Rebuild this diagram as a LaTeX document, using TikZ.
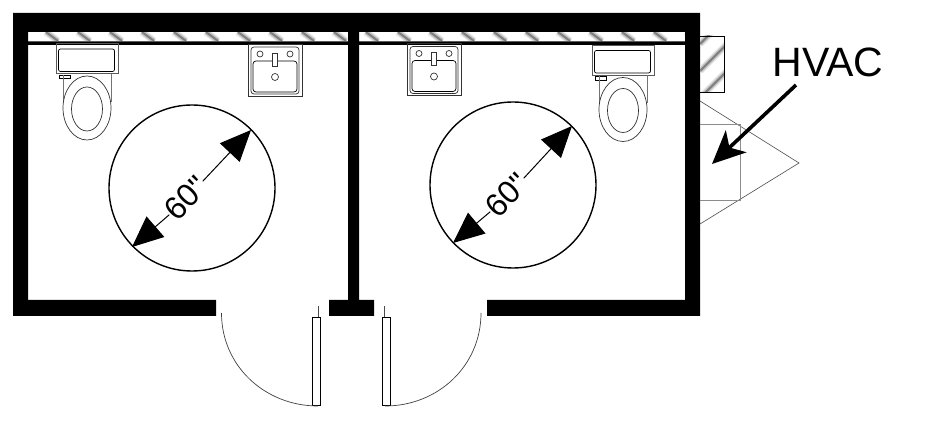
\documentclass[tikz,border=0pt]{standalone}
\usepackage{fontspec}
\setmainfont{Liberation Sans}
\newfontfamily\dimfont{Liberation Sans}
\usetikzlibrary{arrows.meta}
\begin{document}
\begin{tikzpicture}[x=1pt,y=-1pt,
 fix/.style={line width=.7pt,black!80},
 dimline/.style={line width=1pt,{Triangle[length=31pt,width=27pt]}-},
 dimtext/.style={font=\dimfont\fontsize{32}{32}\selectfont,rotate=45,inner sep=0pt},
 hatchone/.style={line width=7pt,black!10},
 hatchtwo/.style={line width=4.5pt,black!25},
 hatchthree/.style={line width=2pt,black!50},
 toilet/.pic={
  \draw[line width=1pt,black!65] (0,0) rectangle (62,30);
  \draw[fix,rounded corners=2pt,black] (2.5,5) rectangle (58.5,27.5);
  \draw[fix,black] (3,31) rectangle (14,34.5);
  \draw[line width=1pt,black!55] (7.5,31) -- (7.5,58) (55,30) -- (55,58);
  \draw[fix,fill=white] (31,64) ellipse [x radius=24,y radius=32];
  \draw[fix] (31,65) ellipse [x radius=15.5,y radius=22];},
 sink/.pic={
  \draw[fix] (0,0) rectangle (54,52);
  \draw[fix,rounded corners=3pt] (3,3) rectangle (51,50);
  \draw[fix,rounded corners=3pt,black] (5,17) rectangle (49,48);
  \draw[fix] (12,10) circle (3) (42,10) circle (3) (27,33) circle (3.5);
  \draw[fix,fill=white] (24.5,9) rectangle (29.5,22);}]
\useasboundingbox (0,0) rectangle (927,427);
\begin{scope}
\clip (28,32) rectangle (685,41);
\foreach \st in {hatchone,hatchtwo,hatchthree}
 \foreach \s in {0,...,20}
  \draw[\st] (46+32*\s,32) -- (58+32*\s,41);
\end{scope}
\fill (13,13) rectangle (700,32) (13,13) rectangle (28,316) (685,13) rectangle (700,316)
 (13,300) rectangle (216,316) (487,300) rectangle (700,316) (329,300) rectangle (374,316)
 (348,32) rectangle (359,300) (28,41.5) rectangle (685,45);
\begin{scope}
\clip (700,36) rectangle (724.5,92);
\foreach \st in {hatchone,hatchtwo,hatchthree}
 \foreach \s in {744,771,798}
  \draw[\st] (700,\s-700) -- ++(30,-30);
\end{scope}
\draw[line width=.8pt] (700,36) -- (724.5,36) -- (724.5,92) -- (700,92);
\draw[line width=.6pt,black!70] (700,101) -- (799,163) -- (700,224);
\draw[line width=.9pt,black!45] (700,124) -- (740,124) -- (740,200) -- (700,200);
\path (56,44) pic {toilet} (592,45.5) pic {toilet} (248,44) pic {sink} (407,43.5) pic {sink};
\foreach \n/\cx/\cy/\ax/\ay/\bx/\by/\tx/\ty in {L/192/188/132/247/251/130/186/198,R/513/185/453/243/572/126/507/195} {
 \draw[line width=1.4pt] (\cx,\cy) circle (83);
 \node[dimtext] (dim\n) at (\tx,\ty) {60"};
 \coordinate (a\n) at (\ax,\ay);
 \coordinate (b\n) at (\bx,\by);
 \draw[dimline] (a\n) -- (dim\n.west);
 \draw[dimline] (b\n) -- (dim\n.east);}
\foreach \x/\tx in {312/318.5,382/384.5} {
 \draw[line width=.8pt] (\x,317) rectangle +(8,88);
 \draw[line width=.6pt,black!70] (\tx,306.5) -- (\tx,317);}
\draw[line width=.7pt,black!75] (221.5,313) .. controls (221.5,366) and (265,406) .. (318,406);
\draw[line width=.7pt,black!75] (481,313) .. controls (481,366) and (438,406) .. (385,406);
\node[font=\fontsize{41}{41}\selectfont,inner sep=0pt] (hvac) at (828,62) {HVAC};
\coordinate (hvacend) at (796,85);
\coordinate (hvactip) at (712,164);
\draw[line width=3.6pt,-{Stealth[length=33pt,width=30pt,inset=9pt]}] (hvacend) -- (hvactip);
\end{tikzpicture}
\end{document}
